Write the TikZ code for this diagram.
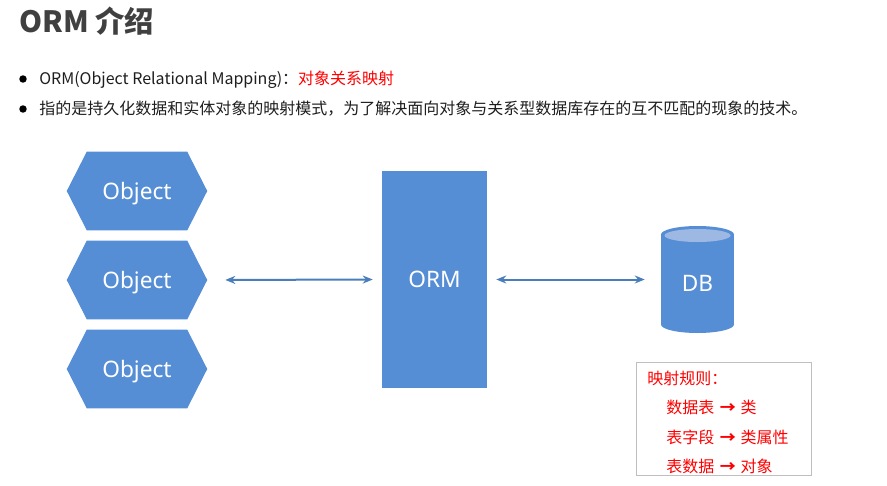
\documentclass[tikz,border=0pt]{standalone}
\usepackage{fontspec}
\setmainfont{Noto Sans CJK SC}
\newfontfamily\latinfont{Noto Sans}
\usetikzlibrary{arrows.meta,backgrounds,calc}
\definecolor{boxblue}{HTML}{558ED5}
\definecolor{arrowblue}{HTML}{4A7EBB}
\definecolor{lightblue}{HTML}{9DB9E3}
\definecolor{titlegray}{HTML}{404040}
\definecolor{rulegray}{HTML}{BFBFBF}
\definecolor{textdark}{HTML}{1E1E1E}
\begin{document}
\begin{tikzpicture}[x=0.75pt,y=-0.75pt,
  hexbox/.style={minimum width=105pt,minimum height=58.5pt,inner sep=0pt,text depth=0pt,text=white,font=\latinfont\fontsize{17}{19}\selectfont},
  ormbox/.style={fill=boxblue,minimum width=78.75pt,minimum height=162.75pt,inner sep=0pt,text=white,font=\latinfont\fontsize{17}{19}\selectfont},
  dbbox/.style={minimum width=54.75pt,minimum height=80.25pt,inner sep=0pt,text=white,font=\latinfont\fontsize{17}{19}\selectfont},
  bullet/.style={circle,fill=black,minimum size=5.6pt,inner sep=0pt},
  bodytext/.style={anchor=base west,inner sep=0pt,text=textdark,font=\fontsize{12}{14}\selectfont},
  ruletext/.style={anchor=base west,inner sep=0pt,text=red,font=\fontsize{12}{14}\selectfont},
  link/.style={{Stealth[length=7.5pt,width=6pt]}-{Stealth[length=7.5pt,width=6pt]},line width=1.5pt,draw=arrowblue}
]
\useasboundingbox (0,0) rectangle (887,485);

% title
\node[anchor=base west,inner sep=0pt,text=titlegray,font=\bfseries\fontsize{22}{24}\selectfont] (title) at (19,33) {ORM 介绍};

% bullets
\node[bullet] (b1) at (23,79) {};
\node[bodytext] (t1) at (39,84.5) {ORM(Object Relational Mapping)：\textcolor{red}{对象关系映射}};
\node[bullet] (b2) at (23,109) {};
\node[bodytext] (t2) at (39,114.5) {指的是持久化数据和实体对象的映射模式，为了解决面向对象与关系型数据库存在的互不匹配的现象的技术。};

% objects
\node[hexbox] (o1) at (137,191) {Object};
\node[hexbox] (o2) at (137,280) {Object};
\node[hexbox] (o3) at (137,369) {Object};
\begin{scope}[on background layer]
\foreach \o in {o1,o2,o3}{
  \fill[boxblue] ([xshift=15pt]\o.north west) -- ([xshift=-15pt]\o.north east) -- (\o.east)
    -- ([xshift=-15pt]\o.south east) -- ([xshift=15pt]\o.south west) -- (\o.west) -- cycle;
}
\end{scope}

% ORM
\node[ormbox] (orm) at (434.5,279.5) {ORM};

% DB
\node[dbbox] (db) at (697.5,279.5) {};
\node[text=white,font=\latinfont\fontsize{17}{19}\selectfont,inner sep=0pt] (dblabel) at (697.5,283) {DB};
\begin{scope}[on background layer]
\fill[boxblue] (661,234.5) rectangle (734,324.5);
\fill[boxblue] (697.5,324.5) ellipse [x radius=36.5, y radius=8.5];
\fill[boxblue] (697.5,234.5) ellipse [x radius=36.5, y radius=8.5];
\fill[lightblue] (697.5,235.5) ellipse [x radius=33, y radius=6.5];
\end{scope}

% connectors
\draw[link,shorten <=13.5pt,shorten >=6.75pt] (o2.east) -- (orm.west);
\draw[link,shorten <=6.75pt,shorten >=12pt] (orm.east) -- (db.west);

% rules box
\node[draw=rulegray,line width=0.75pt,minimum width=131.25pt,minimum height=84.75pt,inner sep=0pt] (rules) at (723.5,418.5) {};
\node[ruletext] (r1) at (647,384) {映射规则：};
\node[ruletext] (r2) at (666,413.5) {数据表\hspace{0.35em}\textbf{→}\hspace{0.3em}类};
\node[ruletext] (r3) at (666,443) {表字段\hspace{0.35em}\textbf{→}\hspace{0.3em}类属性};
\node[ruletext] (r4) at (666,472.5) {表数据\hspace{0.35em}\textbf{→}\hspace{0.3em}对象};
\end{tikzpicture}
\end{document}
